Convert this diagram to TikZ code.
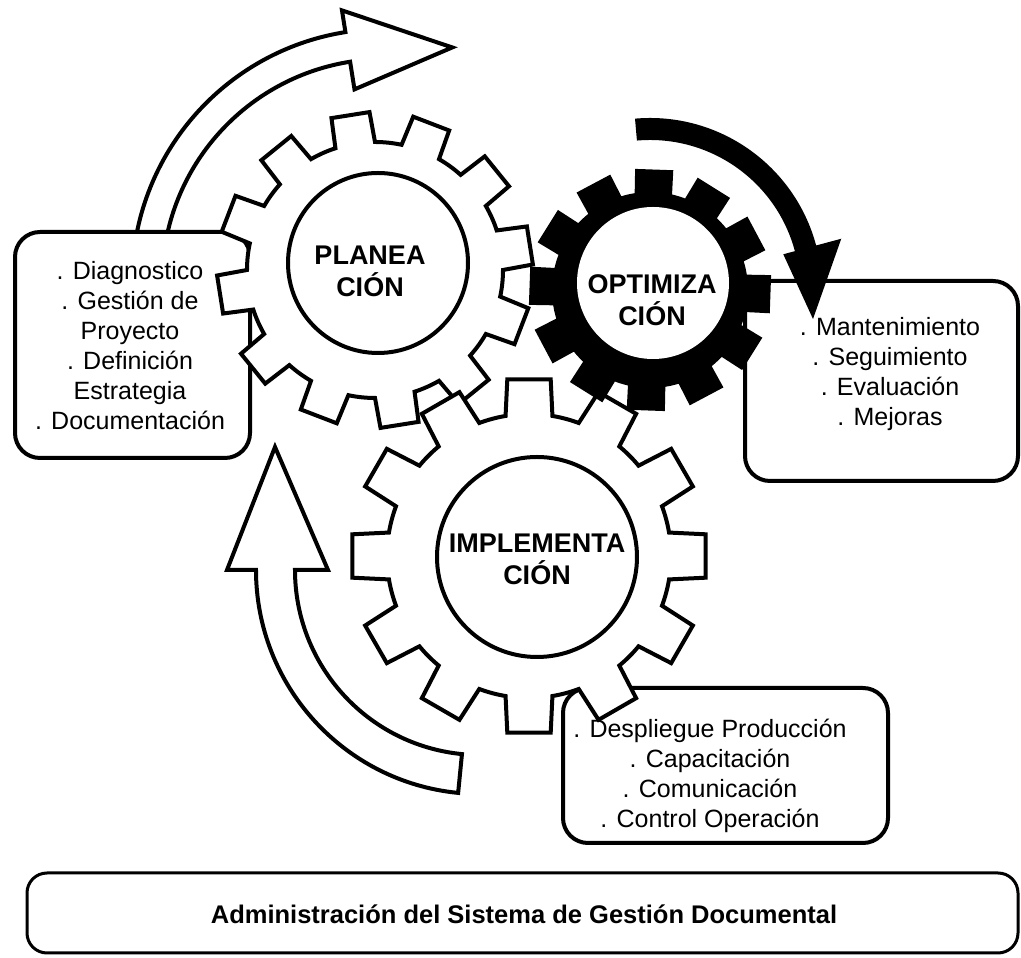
\documentclass[tikz,border=0pt]{standalone}
\usepackage{fontspec}
\setmainfont{Liberation Sans}

% gear outline round the origin:
% #1 teeth, #2 root radius, #3 tip radius, #4 angle of first tooth,
% #5 half width at root, #6 half width at tip (degrees)
\newcommand\gearpath[6]{%
  ({#4-#5}:#2)
  \foreach \k [evaluate=\k as \a using #4+(\k-1)*360/#1] in {1,...,#1}{
    -- ({\a-#6}:#3) -- ({\a+#6}:#3) -- ({\a+#5}:#2)
    arc[start angle=\a+#5, end angle=\a+360/#1-#5, radius=#2]
  } -- cycle}

\tikzset{
  outline/.style={draw, line width=4pt, fill=white},
  gearlabel/.style={align=center, font=\fontsize{27}{32}\selectfont\bfseries},
  boxtext/.style={align=center, font=\fontsize{25}{30}\selectfont},
}

\begin{document}
\begin{tikzpicture}[x=1pt,y=1pt]
\useasboundingbox (0,0) rectangle (1021,958);
% white arrows of the cycle
\begin{scope}[shift={(385,676)}]
\draw[outline] (172:253) arc[start angle=172, end angle=99, radius=253]
  -- (99:275) -- (74:244) -- (99:195) -- (99:223)
  arc[start angle=99, end angle=172, radius=223] -- cycle;
\end{scope}
\begin{scope}[shift={(480,388)}]
\draw[outline] (264.4:224) arc[start angle=264.4, end angle=180, radius=224]
  -- (-253,0) -- (-205,123) -- (-152,0) -- (180:185)
  arc[start angle=180, end angle=264.4, radius=185] -- cycle;
\end{scope}
% boxes
\draw[outline, rounded corners=25] (15,500) rectangle (250,726);
\draw[outline, rounded corners=25] (563,115) rectangle (888,270);
\draw[outline, rounded corners=25] (745,477) rectangle (1018,677);
% gears
\draw[outline, shift={(375,688)}] \gearpath{12}{128}{158}{9}{9}{7};
\draw[outline, shift={(529,402)}] \gearpath{12}{142}{178}{0}{9.5}{7};
\fill[shift={(650,668)}] \gearpath{12}{98}{122}{-2}{11}{9};
\draw[line width=4pt] (378,695) circle[radius=90];
\draw[line width=4pt] (537,401) circle[radius=100];
\fill[white] (653,675) circle[radius=76];
% black arrow
\begin{scope}[shift={(650,668)}]
\fill (95:172) arc[start angle=95, end angle=15, radius=172]
  -- (15:198) -- (163,-29) -- (15:138) -- (15:150)
  arc[start angle=15, end angle=95, radius=150] -- cycle;
\end{scope}
% labels
\node (plan) at (370,687) [gearlabel] {PLANEA\\CIÓN};
\node (opti) at (652,658) [gearlabel] {OPTIMIZA\\CIÓN};
\node (impl) at (537,399) [gearlabel] {IMPLEMENTA\\CIÓN};
\node (diag) at (130,612) [boxtext] {. Diagnostico\\. Gestión de\\Proyecto\\. Definición\\Estrategia\\. Documentación};
\node (mant) at (890,584) [boxtext] {. Mantenimiento\\. Seguimiento\\. Evaluación\\. Mejoras};
\node (desp) at (710,182) [boxtext] {. Despliegue Producción\\. Capacitación\\. Comunicación\\. Control Operación};
% bottom bar
\draw[line width=3pt, rounded corners=20] (27,5) rectangle (1018,85);
\node (admin) at (524,44) [font=\fontsize{25.5}{30}\selectfont\bfseries] {Administración del Sistema de Gestión Documental};
\end{tikzpicture}
\end{document}
